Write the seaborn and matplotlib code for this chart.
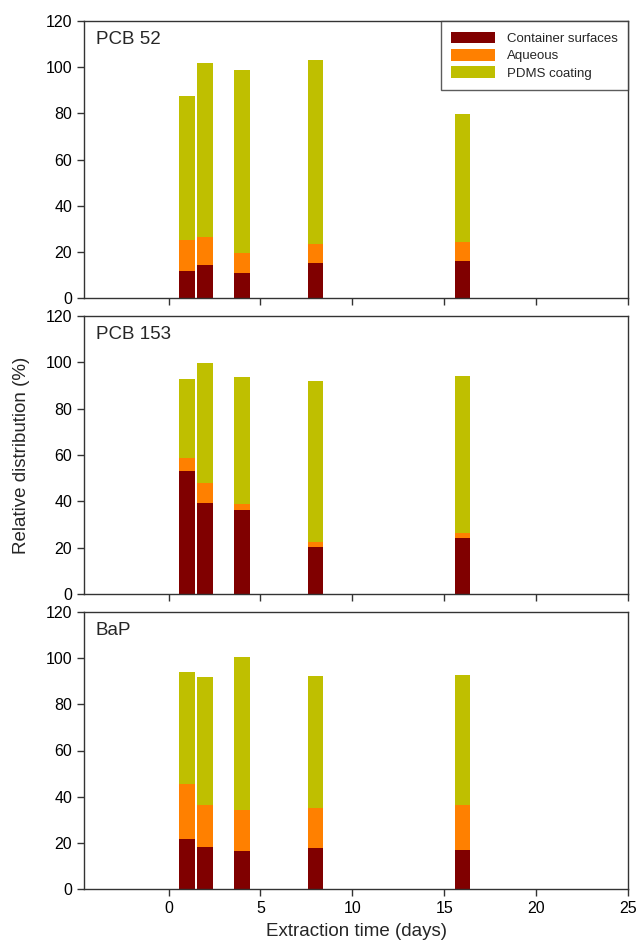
import matplotlib
matplotlib.use("Agg")
import matplotlib.pyplot as plt
import seaborn as sns
import numpy as np
import pandas as pd
from matplotlib.patches import Patch

days = [1, 2, 4, 8, 16]
compounds = ["PCB 52", "PCB 153", "BaP"]
series = ["Container surfaces", "Aqueous", "PDMS coating"]
colors = ["#800000", "#FF8000", "#BFBF00"]

container = {
    "PCB 52": [11.7, 14.4, 11.0, 15.3, 16.0],
    "PCB 153": [53.0, 39.4, 36.4, 20.3, 24.1],
    "BaP": [21.7, 18.2, 16.3, 17.8, 17.0],
}
aqueous = {
    "PCB 52": [13.4, 11.9, 8.5, 8.1, 8.3],
    "PCB 153": [5.8, 8.5, 2.5, 2.0, 2.2],
    "BaP": [23.9, 18.3, 17.9, 17.1, 19.5],
}
pdms = {
    "PCB 52": [62.4, 75.4, 79.4, 79.7, 55.6],
    "PCB 153": [34.2, 52.0, 54.9, 69.5, 67.8],
    "BaP": [48.3, 55.5, 66.3, 57.4, 56.1],
}

sns.set_style("ticks")
plt.rcParams["font.family"] = ["Liberation Sans", "DejaVu Sans"]

fig = plt.figure(figsize=(6.39, 9.43), dpi=100)
W, H = 639, 943
left, right = 84 / W, 628 / W
panels = [(21, 298), (316, 594), (612, 889)]

for i, (comp, (top, bot)) in enumerate(zip(compounds, panels)):
    ax = fig.add_axes([left, 1 - bot / H, right - left, (bot - top) / H])
    c = np.array(container[comp])
    a = np.array(aqueous[comp])
    p = np.array(pdms[comp])
    layers = [c + a + p, c + a, c]
    for vals, col in zip(layers, colors[::-1]):
        df = pd.DataFrame({"day": days, "val": vals})
        sns.barplot(data=df, x="day", y="val", native_scale=True, color=col,
                    saturation=1, width=0.85, errorbar=None, ax=ax,
                    linewidth=0)
    ax.set_xlim(-4.6, 25)
    ax.set_ylim(0, 120)
    ax.set_yticks(np.arange(0, 121, 20))
    ax.set_xticks([0, 5, 10, 15, 20, 25])
    ax.set_xlabel("")
    ax.set_ylabel("")
    for s in ax.spines.values():
        s.set_linewidth(1.0)
        s.set_color("#333333")
    ax.tick_params(direction="out", length=5, width=1, labelsize=11.5,
                   colors="#333333", labelcolor="black")
    if i < 2:
        ax.set_xticklabels([])
    ax.text(0.022, 0.965, comp, transform=ax.transAxes, fontsize=13.5,
            va="top", ha="left")
    if i == 0:
        handles = [Patch(facecolor=col, edgecolor="none") for col in colors]
        leg = ax.legend(handles, series, loc="upper right", fontsize=9.5,
                        frameon=True, fancybox=False, borderaxespad=0,
                        handlelength=3.3, handleheight=1.0,
                        handletextpad=0.9,
                        borderpad=0.8, labelspacing=0.3)
        leg.get_frame().set_edgecolor("#333333")
        leg.get_frame().set_linewidth(1.0)

fig.text(22 / W, 1 - 455 / H, "Relative distribution (%)", rotation=90,
         ha="center", va="center", fontsize=13.5)
fig.text(0.5 * (84 + 628) / W, 1 - 931 / H,
         "Extraction time (days)", ha="center", va="center", fontsize=13.5)

fig.savefig("out.png", dpi=100)
